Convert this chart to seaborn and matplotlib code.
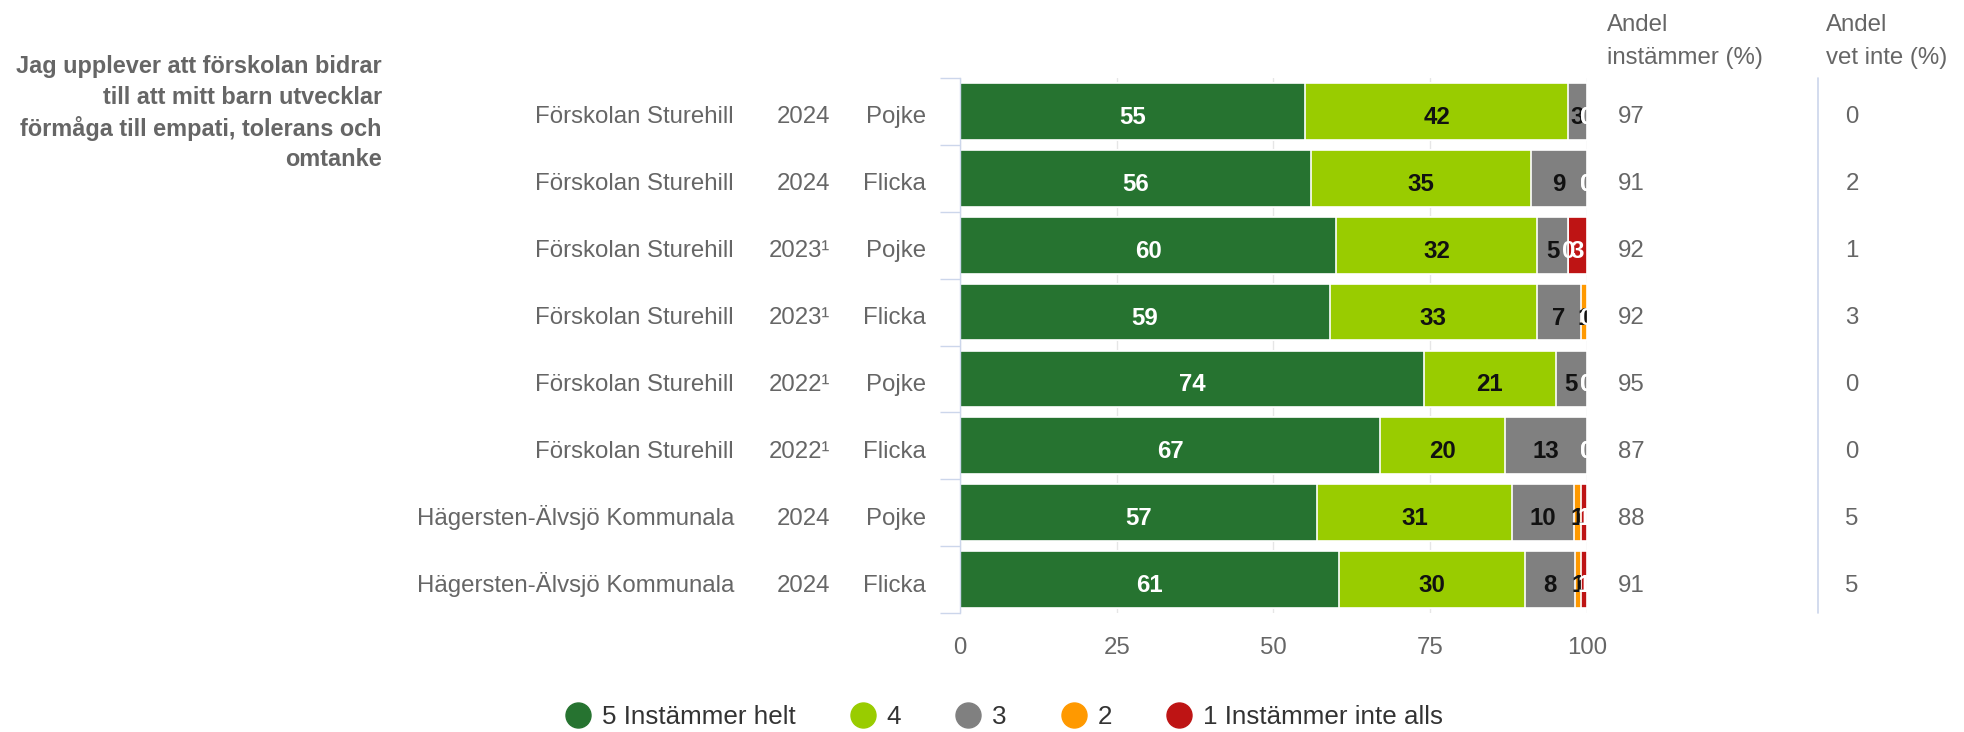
import numpy as np
import pandas as pd
import matplotlib
matplotlib.use("Agg")
import matplotlib.pyplot as plt
import seaborn as sns
from matplotlib.lines import Line2D
from matplotlib.transforms import blended_transform_factory

# ---------------- data ----------------
schools = ["Förskolan Sturehill"] * 6 + ["Hägersten-Älvsjö Kommunala"] * 2
years = ["2024", "2024", "2023¹", "2023¹", "2022¹", "2022¹", "2024", "2024"]
genders = ["Pojke", "Flicka", "Pojke", "Flicka", "Pojke", "Flicka", "Pojke", "Flicka"]

cat5 = [55, 56, 60, 59, 74, 67, 57, 61]   # 5 Instämmer helt
cat4 = [42, 35, 32, 33, 21, 20, 31, 30]   # 4
cat3 = [3, 9, 5, 7, 5, 13, 10, 8]         # 3
cat2 = [0, 0, 0, 1, 0, 0, 1, 1]           # 2
cat1 = [0, 0, 3, 0, 0, 0, 1, 1]           # 1 Instämmer inte alls

share_agree = [97, 91, 92, 92, 95, 87, 88, 91]
share_dont_know = [0, 2, 1, 3, 0, 0, 5, 5]

series_names = ["5 Instämmer helt", "4", "3", "2", "1 Instämmer inte alls"]
series_colors = ["#267330", "#99CC00", "#808080", "#FF9900", "#BE1414"]
label_colors = ["white", "#111111", "#111111", "#111111", "white"]

question_lines = ["Jag upplever att förskolan bidrar",
                  "till att mitt barn utvecklar",
                  "förmåga till empati, tolerans och",
                  "omtanke"]
header_agree = ["Andel", "instämmer (%)"]
header_dont_know = ["Andel", "vet inte (%)"]
xticks = [0, 25, 50, 75, 100]

# ---------------- style ----------------
sns.set_style("white")
plt.rcParams["font.family"] = ["Liberation Sans", "DejaVu Sans"]

PX = 0.72  # points per pixel at dpi 100
GRAY_TXT = "#666666"
AXIS_COL = "#ccd6eb"

fig = plt.figure(figsize=(19.65, 7.32), dpi=100)
ax = fig.add_axes([960 / 1965, 1 - 613 / 732, 627 / 1965, 535 / 732])
ROW_PX = 535 / 8.0
BASE = 12.0 / ROW_PX  # baseline offset (data units) below row centre

vals = np.array([cat5, cat4, cat3, cat2, cat1], dtype=float)
pct = vals / vals.sum(axis=0) * 100
cum = pct.cumsum(axis=0)
rows = [f"r{i}" for i in range(len(cat5))]

ax.set_axisbelow(True)
# draw cumulative layers back to front so they appear stacked
for k in reversed(range(len(series_names))):
    df = pd.DataFrame({"row": rows, "x": cum[k]})
    sns.barplot(data=df, x="x", y="row", order=rows, orient="h",
                color=series_colors[k], saturation=1, width=0.85,
                edgecolor="white", linewidth=1.2, errorbar=None, ax=ax)

# segment labels
for k in range(len(series_names)):
    for i in range(len(rows)):
        v = int(vals[k, i])
        xc = cum[k, i] - pct[k, i] / 2
        col = label_colors[k] if v > 0 else "white"
        ax.text(xc, i + 12.5 / ROW_PX, str(v), ha="center", va="baseline", color=col,
                fontsize=24 * PX, fontweight="bold", clip_on=True, zorder=5)

ax.set_xlim(0, 100)
ax.set_xticks(xticks)
ax.set_xticklabels([str(t) for t in xticks])
ax.set_yticks(np.arange(-0.5, len(rows), 1))
ax.set_yticklabels([])
ax.set_ylim(len(rows) - 0.5, -0.5)
ax.set_xlabel("")
ax.set_ylabel("")
ax.xaxis.grid(True, color="#e6e6e6", lw=1)
ax.yaxis.grid(False)
for s in ["top", "right", "bottom"]:
    ax.spines[s].set_visible(False)
ax.spines["left"].set_color(AXIS_COL)
ax.spines["left"].set_linewidth(1)
ax.tick_params(axis="x", length=0, pad=17, labelsize=24 * PX, labelcolor=GRAY_TXT)
ax.tick_params(axis="y", length=20 * PX, width=1, color=AXIS_COL, left=True)

# category labels (three columns) and right-hand value columns
tr = blended_transform_factory(fig.transFigure, ax.transData)
for i in range(len(rows)):
    y = i + BASE
    ax.text(734 / 1965, y, schools[i], transform=tr, ha="right", va="baseline",
            fontsize=24 * PX, color=GRAY_TXT)
    ax.text(830 / 1965, y, years[i], transform=tr, ha="right", va="baseline",
            fontsize=24 * PX, color=GRAY_TXT)
    ax.text(926 / 1965, y, genders[i], transform=tr, ha="right", va="baseline",
            fontsize=24 * PX, color=GRAY_TXT)
    ax.text(1631 / 1965, y, str(share_agree[i]), transform=tr, ha="center",
            va="baseline", fontsize=24 * PX, color=GRAY_TXT)
    ax.text(1852 / 1965, y, str(share_dont_know[i]), transform=tr, ha="center",
            va="baseline", fontsize=24 * PX, color=GRAY_TXT)

# right-hand headers
for j, (ln_a, ln_b) in enumerate(zip(header_agree, header_dont_know)):
    y = 1 - (25 + 33 * j) / 732
    fig.text(1607 / 1965, y, ln_a, ha="left", va="center", fontsize=24 * PX, color=GRAY_TXT)
    fig.text(1826 / 1965, y, ln_b, ha="left", va="center", fontsize=24 * PX, color=GRAY_TXT)

# separator between right columns
fig.add_artist(Line2D([1818 / 1965, 1818 / 1965], [1 - 613 / 732, 1 - 78 / 732],
                      transform=fig.transFigure, color=AXIS_COL, lw=1.2))

# question text
for j, line in enumerate(question_lines):
    y = 1 - (66.5 + 31 * j) / 732
    fig.text(382 / 1965, y, line, ha="right", va="center", fontsize=23.5 * PX,
             fontweight="bold", color=GRAY_TXT)

# legend
handles = [Line2D([], [], marker="o", ls="none", markersize=25 * PX,
                  markerfacecolor=c, markeredgecolor=c) for c in series_colors]
fig.legend(handles, series_names, loc="center", bbox_to_anchor=(1004 / 1965, 15 / 732),
           ncol=5, frameon=False, fontsize=26 * PX, handlelength=1.0,
           handletextpad=0.4, columnspacing=2.1, labelcolor="#333333",
           borderpad=0, borderaxespad=0)

fig.savefig("out.png", dpi=100)
